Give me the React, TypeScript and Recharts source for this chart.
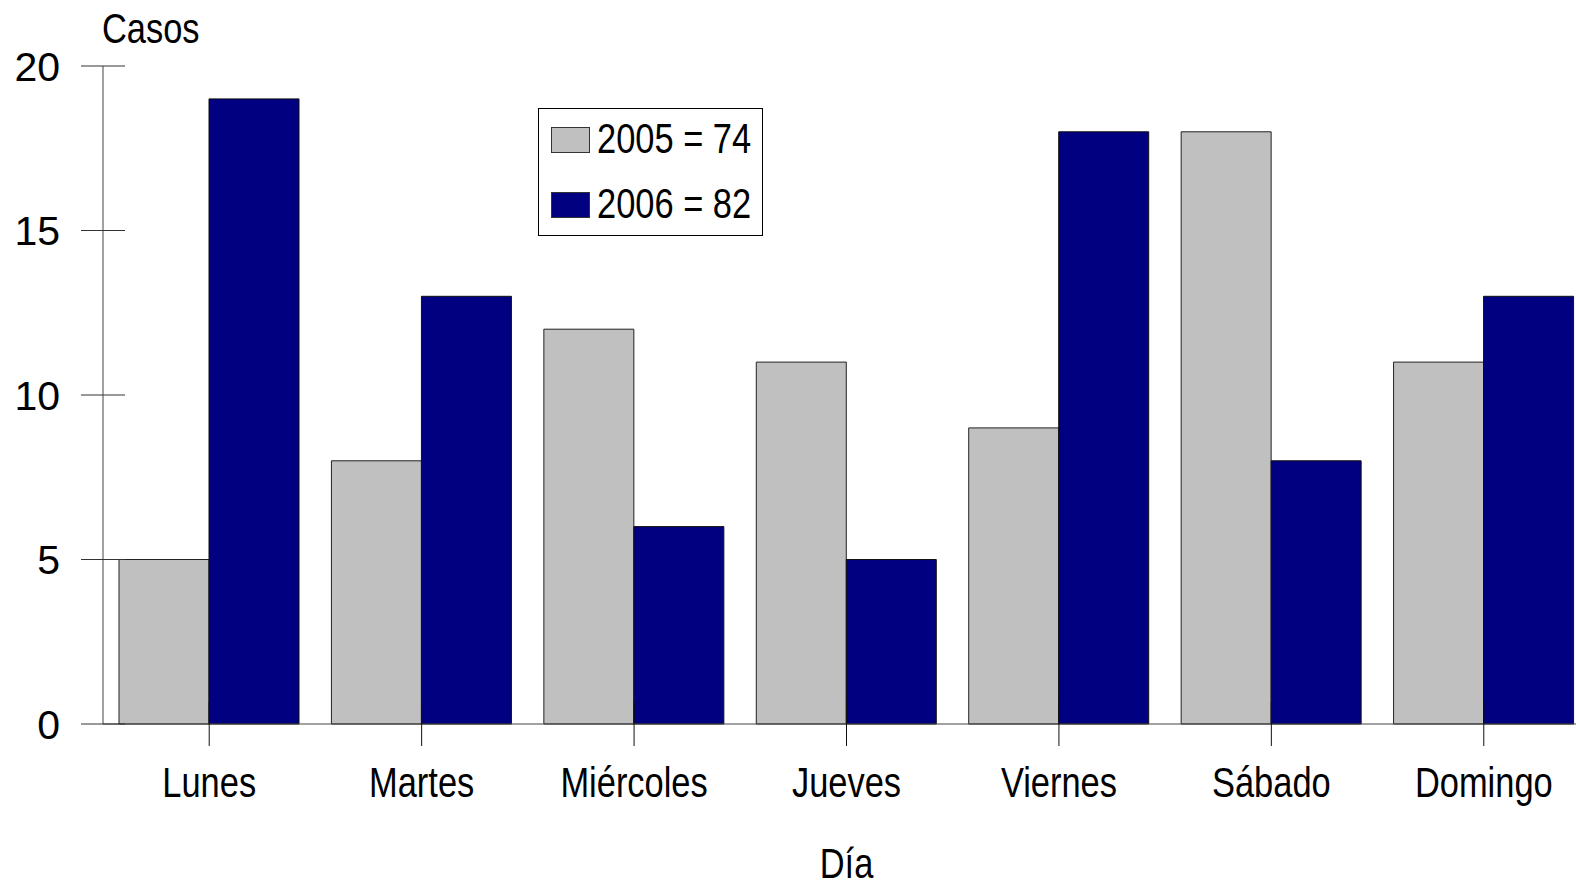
import { BarChart, Bar, XAxis, YAxis, Legend } from "recharts";

const days = ["Lunes", "Martes", "Miércoles", "Jueves", "Viernes", "Sábado", "Domingo"];
const casos2005 = [5, 8, 12, 11, 9, 18, 11];
const casos2006 = [19, 13, 6, 5, 18, 8, 13];
const yTicks = [0, 5, 10, 15, 20];
const seriesNames = ["2005 = 74", "2006 = 82"];

const FONT = "'Liberation Sans', Arial, sans-serif";
const NARROW = 0.82; // no Arial Narrow installed, squeeze instead
const GRAY = "#c0c0c0";
const NAVY = "#000080";

const data = days.map((d, i) => ({ day: d, a: casos2005[i], b: casos2006[i] }));

function NarrowText({ x, y, anchor, children }: any) {
    return (
        <text
            transform={`translate(${x} ${y}) scale(${NARROW} 1)`}
            textAnchor={anchor}
            fontSize={42}
            fontFamily={FONT}
            fill="#000"
        >
            {children}
        </text>
    );
}

function YTick(props: any) {
    const { x, y, payload } = props;
    return (
        <g>
            <line x1={x - 22} x2={x + 22} y1={y} y2={y} stroke="#333" />
            <text x={x - 43} y={y} dy="0.36em" textAnchor="end" fontSize={41} fontFamily={FONT} fill="#000">
                {payload.value}
            </text>
        </g>
    );
}

function XTick(props: any) {
    const { x, y, payload } = props;
    return (
        <g>
            <line x1={x} x2={x} y1={y - 22} y2={y + 22} stroke="#111" />
            <NarrowText x={x} y={y + 73} anchor="middle">
                {payload.value}
            </NarrowText>
        </g>
    );
}

function LegendBox() {
    const items = [GRAY, NAVY];
    return (
        <div
            style={{
                border: "1px solid #000",
                background: "#fff",
                width: 223,
                height: 126,
                position: "relative",
            }}
        >
            {items.map((c, i) => (
                <div key={i}>
                    <div
                        style={{
                            position: "absolute",
                            left: 12,
                            top: 18 + i * 65,
                            width: 37,
                            height: 24,
                            background: c,
                            border: "1px solid #333",
                        }}
                    />
                    <div
                        style={{
                            position: "absolute",
                            left: 58,
                            top: 8.5 + i * 65,
                            fontSize: 42,
                            lineHeight: "42px",
                            fontFamily: FONT,
                            color: "#000",
                            whiteSpace: "nowrap",
                            transform: `scaleX(${NARROW})`,
                            transformOrigin: "left top",
                        }}
                    >
                        {seriesNames[i]}
                    </div>
                </div>
            ))}
        </div>
    );
}

export default function App() {
    return (
        <div
            style={{
                position: "fixed",
                left: 0,
                top: 0,
                width: 1576,
                height: 882,
                overflow: "hidden",
                background: "#fff",
            }}
        >
            <BarChart
                width={1600}
                height={882}
                data={data}
                margin={{ top: 66, right: 10, bottom: 0, left: 0 }}
                barSize={90}
                barGap={0}
            >
                <XAxis
                    dataKey="day"
                    height={158}
                    tickSize={0}
                    tickMargin={0}
                    stroke="#444"
                    tick={<XTick />}
                    label={(p: any) => (
                        <NarrowText x={p.viewBox.x + p.viewBox.width / 2} y={p.viewBox.y + 154} anchor="middle">
                            Día
                        </NarrowText>
                    )}
                />
                <YAxis
                    width={103}
                    domain={[0, 20]}
                    ticks={yTicks}
                    tickSize={0}
                    tickMargin={0}
                    stroke="#444"
                    tick={<YTick />}
                    label={(p: any) => (
                        <NarrowText x={p.viewBox.x + p.viewBox.width - 1} y={p.viewBox.y - 23} anchor="start">
                            Casos
                        </NarrowText>
                    )}
                />
                <Legend
                    layout="horizontal"
                    align="center"
                    verticalAlign="middle"
                    content={() => <LegendBox />}
                    wrapperStyle={{ left: 538, top: 108, width: "auto", height: "auto" }}
                />
                <Bar dataKey="a" fill={GRAY} stroke="#222" strokeWidth={1} isAnimationActive={false} />
                <Bar dataKey="b" fill={NAVY} stroke="#111" strokeWidth={1} isAnimationActive={false} />
            </BarChart>
        </div>
    );
}
